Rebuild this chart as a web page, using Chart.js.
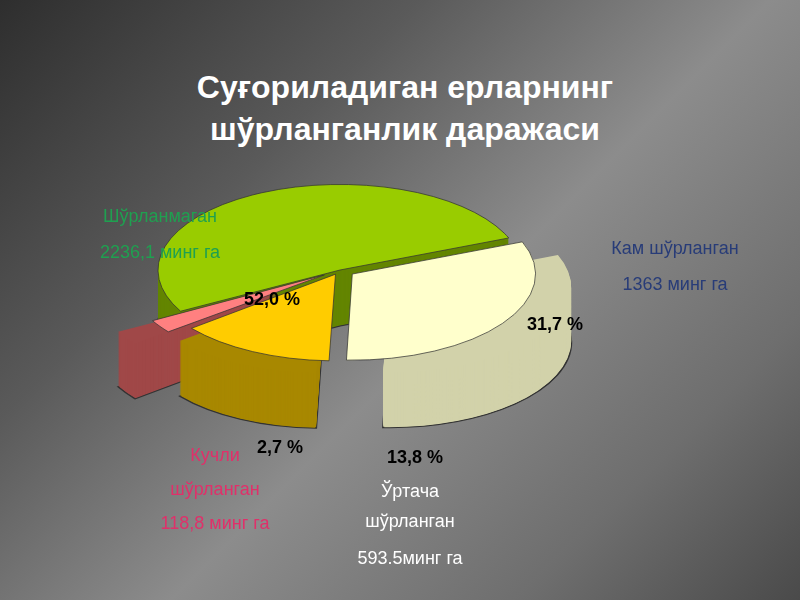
<!DOCTYPE html>
<html><head><meta charset="utf-8">
<script src="https://cdn.jsdelivr.net/npm/chart.js@4"></script>
<style>
html,body{margin:0;width:800px;height:600px;overflow:hidden}
body{background:linear-gradient(135deg,#2e2e2e 0%,#5a5a5a 30%,#8c8c8c 55%,#6e6e6e 80%,#4a4a4a 100%);font-family:"Liberation Sans",Arial,sans-serif;position:relative}
h1{position:absolute;top:66px;left:0;width:810px;text-align:center;color:#fff;font-size:32px;line-height:42px;margin:0;font-weight:bold}
.lab{position:absolute;text-align:center;font-size:18px;line-height:36px}
#c{position:absolute;left:0;top:0}
</style></head><body>
<h1>Суғориладиган ерларнинг<br>шўрланганлик даражаси</h1>
<canvas id="c" width="800" height="600"></canvas>
<div class="lab" style="left:70px;top:198px;width:180px;color:#1fa050">Шўрланмаган<br>2236,1 минг га</div>
<div class="lab" style="left:580px;top:230px;width:190px;color:#283c78">Кам шўрланган<br>1363 минг га</div>
<div class="lab" style="left:130px;top:438px;width:170px;color:#e0306a;line-height:34px">Кучли<br>шўрланган<br>118,8 минг га</div>
<div class="lab" style="left:330px;top:476px;width:160px;color:#fff;line-height:30px">Ўртача<br>шўрланган<br><span style="line-height:44px">593.5минг га</span></div>
<script>
const categories=['Кам шўрланган','Ўртача шўрланган','Кучли шўрланган','Шўрланмаган'];
const percents=[31.7,13.8,2.7,52.0];
const colors=['#ffffcc','#ffcc00','#ff8080','#99cc00'];
const sideColors=['#d2d2aa','#a88800','#a04848','#638500'];
const offsets=[60,40,75,0];
const SQ=0.47, DEPTH=56;
const labelPos=[[555,325],[415,458],[280,448],[272,300]];
const pie3d={id:'pie3d',
 beforeDatasetsDraw(ch){const ctx=ch.ctx;const m=ch.getDatasetMeta(0);const a=m.data[0];const cy=a.y;
  ctx.save();ctx.translate(0,cy);ctx.scale(1,SQ);ctx.translate(0,-cy);
  const order=[3,2,0,1];
  for(let d=DEPTH;d>0;d-=1){order.forEach(i=>{const e=m.data[i];const p=e.getProps(['x','y','startAngle','endAngle','outerRadius']);
    const off=offsets[i];const mid=(p.startAngle+p.endAngle)/2;const x=p.x+Math.cos(mid)*off,y=p.y+Math.sin(mid)*off+d/SQ;
    ctx.beginPath();ctx.moveTo(x,y);ctx.arc(x,y,p.outerRadius,p.startAngle,p.endAngle);ctx.closePath();
    ctx.fillStyle=sideColors[i];ctx.fill();
    if(d===DEPTH){ctx.strokeStyle='#333';ctx.lineWidth=1/SQ;ctx.stroke();}});}
 },
 afterDatasetsDraw(ch){const ctx=ch.ctx;ctx.restore();
  ctx.font='bold 18px "Liberation Sans",Arial';ctx.fillStyle='#000';ctx.textAlign='center';ctx.textBaseline='middle';
  percents.forEach((v,i)=>ctx.fillText(v.toFixed(1).replace('.',',')+' %',labelPos[i][0],labelPos[i][1]));
 }};
new Chart(document.getElementById('c'),{type:'pie',
 data:{labels:categories,datasets:[{data:percents,backgroundColor:colors,borderColor:'#333',borderWidth:1,offset:offsets,hoverOffset:0}]},
 options:{responsive:false,animation:false,rotation:68,events:[],layout:{padding:{left:120,right:240,top:50,bottom:110}},
  plugins:{legend:{display:false},tooltip:{enabled:false}}},
 plugins:[pie3d]});
</script></body></html>
